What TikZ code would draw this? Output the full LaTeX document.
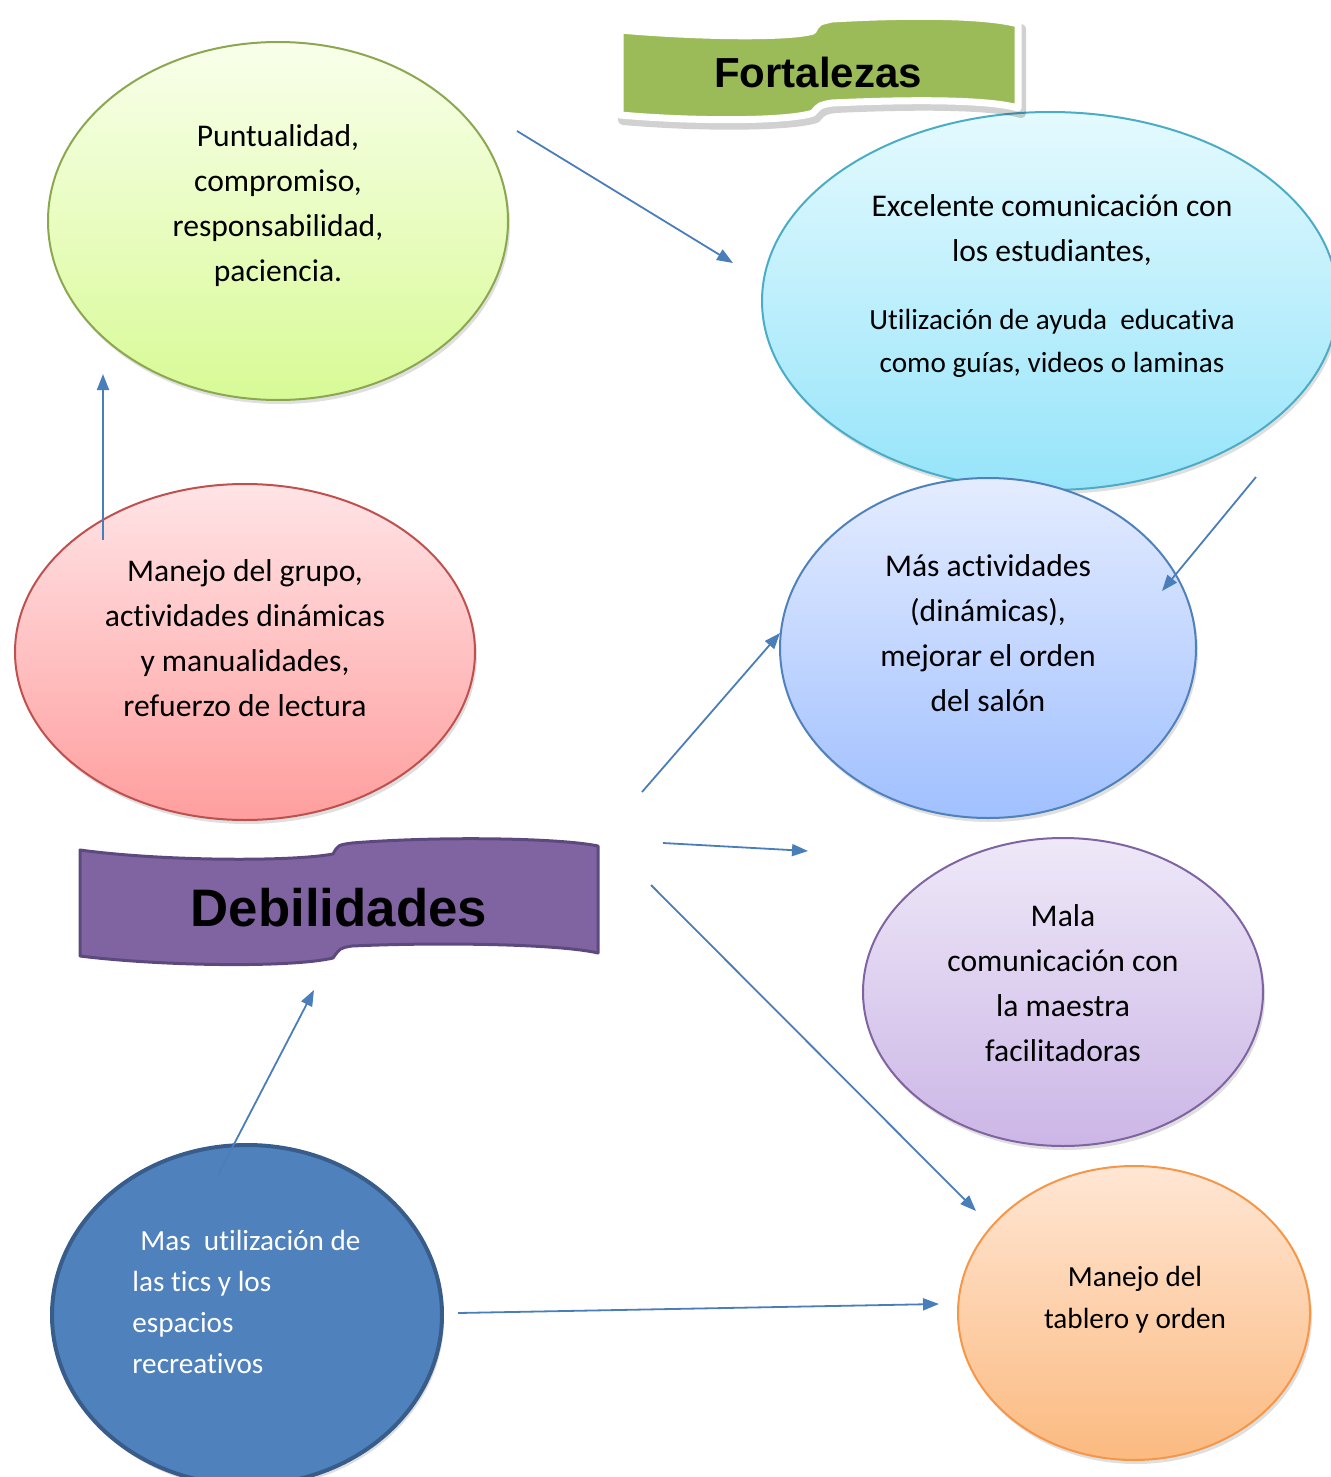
\documentclass[tikz,border=0pt]{standalone}
\usepackage{fontspec}
\setmainfont{Carlito}[Ligatures=NoCommon]
\newfontfamily\headfont{Liberation Sans}
\usetikzlibrary{shapes.geometric,arrows.meta,shadows}
\definecolor{arrowc}{HTML}{4A7EBB}
\definecolor{gfill}{HTML}{9BBB59}
\definecolor{pfill}{HTML}{8064A2}
\definecolor{pdraw}{HTML}{5C4A7F}
\tikzset{
  ell/.style={ellipse, inner sep=0pt, outer sep=0pt, line width=1pt,
    drop shadow={shadow xshift=1pt, shadow yshift=-2pt, opacity=0.25}},
  txt/.style={align=center, inner sep=0pt, font=\fontsize{15.8}{22.5}\selectfont},
  smalltxt/.style={align=center, inner sep=0pt, font=\fontsize{14.6}{21.5}\selectfont},
  conn/.style={draw=arrowc, line width=0.9pt, -{Triangle[length=8pt,width=6pt]}},
}
\begin{document}
\begin{tikzpicture}[x=0.5pt,y=-0.5pt]
\useasboundingbox (0,0) rectangle (1330,1477);

% ellipses
\node[ell, minimum width=230pt, minimum height=179pt, draw=gfill!90!black, top color=green!6!lime!8, bottom color={rgb,255:red,216;green,250;blue,150}] (green) at (278,221) {};
\node[ell, minimum width=288pt, minimum height=189pt, draw={rgb,255:red,75;green,172;blue,198}, top color={rgb,255:red,228;green,250;blue,254}, bottom color={rgb,255:red,150;green,228;blue,250}] (cyan) at (1050,301) {};
\node[ell, minimum width=230pt, minimum height=168pt, draw={rgb,255:red,192;green,80;blue,77}, top color={rgb,255:red,255;green,228;blue,230}, bottom color={rgb,255:red,255;green,158;blue,158}] (red) at (245,652) {};
\node[ell, minimum width=208pt, minimum height=170pt, draw={rgb,255:red,79;green,129;blue,189}, top color={rgb,255:red,228;green,236;blue,255}, bottom color={rgb,255:red,160;green,192;blue,255}] (lav) at (988,648) {};
\node[ell, minimum width=200pt, minimum height=154pt, draw=pfill, top color={rgb,255:red,238;green,232;blue,248}, bottom color={rgb,255:red,204;green,182;blue,230}] (purple) at (1063,992) {};
\node[ell, minimum width=176pt, minimum height=147pt, draw={rgb,255:red,247;green,150;blue,70}, top color={rgb,255:red,255;green,230;blue,212}, bottom color={rgb,255:red,251;green,186;blue,128}] (orange) at (1134,1313) {};
\node[ell, minimum width=195pt, minimum height=170pt, line width=2pt, draw={rgb,255:red,56;green,93;blue,138}, fill={rgb,255:red,79;green,129;blue,189}] (dark) at (247,1315) {};

% banners
\def\fortpath{(620,30) .. controls (700,37) and (790,38) .. (813,31) .. controls (818,22) .. (832,19)
  .. controls (920,14) and (990,16) .. (1018,24) -- (1018,108)
  .. controls (990,100) and (920,99) .. (832,103) .. controls (820,105) .. (813,113)
  .. controls (790,121) and (700,122) .. (620,115) -- cycle}
\begin{scope}[shift={(3,5)}]
\path[draw=black, opacity=0.18, line width=5pt, line join=round] \fortpath;
\end{scope}
\path[fill=gfill, draw=white, line width=3.5pt, line join=round] \fortpath;
\node[font=\headfont\bfseries\fontsize{21}{24}\selectfont, inner sep=0pt] (fort) at (818,72) {Fortalezas};

\path[fill=pfill, draw=pdraw, line width=1.5pt, line join=round]
  (80,850) .. controls (160,861) and (290,862) .. (333,854) .. controls (338,845) .. (352,843)
  .. controls (440,836) and (560,838) .. (598,846) -- (598,953)
  .. controls (560,944) and (440,942) .. (352,946) .. controls (340,948) .. (333,958)
  .. controls (290,968) and (160,966) .. (80,956) -- cycle;
\node[font=\headfont\bfseries\fontsize{26.4}{30}\selectfont, inner sep=0pt] (deb) at (339,908) {Debilidades};

% texts
\node[txt] (tgreen) at (278,206) {Puntualidad,\\compromiso,\\responsabilidad,\\paciencia.};
\node[txt] (tcyan1) at (1052,230) {Excelente comunicación con\\los estudiantes,};
\node[smalltxt] (tcyan2) at (1052,343) {Utilización de ayuda\ \ educativa\\como guías, videos o laminas};
\node[txt] (tred) at (245,638) {Manejo del grupo,\\actividades dinámicas\\y manualidades,\\refuerzo de lectura};
\node[txt] (tlav) at (988,633) {Más actividades\\(dinámicas),\\mejorar el orden\\del salón};
\node[txt] (tpurple) at (1063,983) {Mala\\comunicación con\\la maestra\\facilitadoras};
\node[smalltxt, font=\fontsize{14.6}{21}\selectfont] (torange) at (1135,1300) {Manejo del\\tablero y orden};
\node[align=left, inner sep=0pt, anchor=west, text=white, font=\fontsize{14.6}{20.5}\selectfont] (tdark) at (132,1302) {\hspace{4pt}Mas\ \ utilización de\\las tics y los\\espacios\\recreativos};

% connector end points
\coordinate (a1s) at (517,131); \coordinate (a1e) at (733,263);
\coordinate (a2s) at (103,540); \coordinate (a2e) at (103,374);
\coordinate (a3s) at (1256,477); \coordinate (a3e) at (1162,591);
\coordinate (a4s) at (642,792); \coordinate (a4e) at (780,633);
\coordinate (a5s) at (663,843); \coordinate (a5e) at (808,851);
\coordinate (a6s) at (651,885); \coordinate (a6e) at (976,1211);
\coordinate (a7s) at (218,1175); \coordinate (a7e) at (314,990);
\coordinate (a8s) at (458,1313); \coordinate (a8e) at (939,1304);

\draw[conn] (a1s) -- (a1e);
\draw[conn] (a2s) -- (a2e);
\draw[conn] (a3s) -- (a3e);
\draw[conn] (a4s) -- (a4e);
\draw[conn] (a5s) -- (a5e);
\draw[conn] (a6s) -- (a6e);
\draw[conn] (a7s) -- (a7e);
\draw[conn] (a8s) -- (a8e);
\end{tikzpicture}
\end{document}
